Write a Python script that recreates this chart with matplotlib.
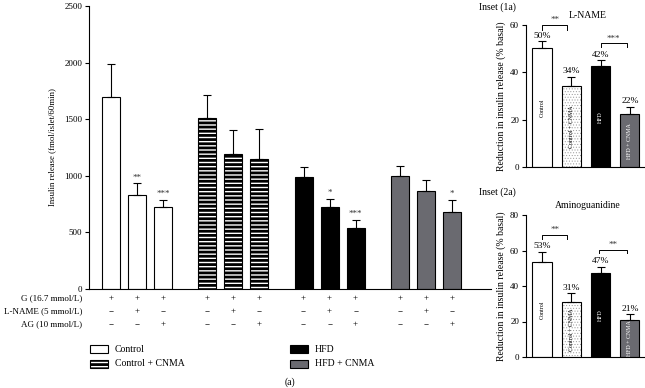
import matplotlib
matplotlib.use("Agg")
import matplotlib.pyplot as plt
from matplotlib.patches import Rectangle
from matplotlib.transforms import blended_transform_factory
import numpy as np

plt.rcParams['font.family'] = ['Liberation Serif', 'DejaVu Serif']
plt.rcParams['hatch.linewidth'] = 2.0

# ---------------- data ----------------
groups = ["Control", "Control + CNMA", "HFD", "HFD + CNMA"]
main_means = [[1700, 830, 727], [1510, 1195, 1150], [990, 725, 540], [1000, 866, 680]]
main_errs = [[288, 104, 60], [205, 210, 262], [88, 70, 70], [87, 97, 106]]
main_stars = [["", "**", "***"], ["", "", ""], ["", "*", "***"], ["", "", "*"]]

row_labels = ["G (16.7 mmol/L)", "L-NAME (5 mmol/L)", "AG (10 mmol/L)"]
row_signs = [["+", "+", "+"], ["\u2212", "+", "\u2212"], ["\u2212", "\u2212", "+"]]

inset_groups = ["Control", "Control + CNMA", "HFD", "HFD + CNMA"]
lname_vals = [50.1, 34.2, 42.5, 22.2]
lname_errs = [3.1, 3.9, 2.6, 3.2]
lname_pct = ["50%", "34%", "42%", "22%"]
ag_vals = [53.3, 30.8, 47.5, 20.8]
ag_errs = [6.0, 5.1, 3.4, 3.4]
ag_pct = ["53%", "31%", "47%", "21%"]

W, H = 645, 388
fig = plt.figure(figsize=(W / 100, H / 100), dpi=100)

def fx(px):
    return px / W

def fy(py):
    return 1 - py / H

WHITE = "white"
BLACK = "black"
GRAY = "#6a6a70"
face = [WHITE, WHITE, BLACK, GRAY]
hatches = [None, "----", None, None]

# ---------------- main axes ----------------
ax = fig.add_axes([fx(89), fy(289), fx(491) - fx(89), fy(6) - fy(289)])
group_gap = 3.7
width = 0.69
xpos_all = []
for g in range(4):
    xs = np.arange(3) + g * group_gap
    xpos_all.extend(xs)
    ax.bar(xs, main_means[g], width=width, color=face[g], edgecolor="black",
           linewidth=0.8, hatch=hatches[g], zorder=2,
           yerr=[np.zeros(3), main_errs[g]],
           error_kw=dict(ecolor="black", elinewidth=0.8, capsize=3, capthick=0.8))
    for i in range(3):
        if main_stars[g][i]:
            ax.text(xs[i], main_means[g][i] + main_errs[g][i] + 15, main_stars[g][i],
                    ha="center", va="bottom", fontsize=6.5, color="#333333")

ax.set_xlim(-0.846, 14.6)
ax.set_ylim(0, 2500)
ax.set_yticks([0, 500, 1000, 1500, 2000, 2500])
ax.tick_params(axis="y", labelsize=6.5, length=3, width=0.8, pad=2)
ax.set_xticks(xpos_all)
ax.set_xticklabels([])
ax.tick_params(axis="x", direction="in", length=2, width=0.6)
for s in ["top", "right"]:
    ax.spines[s].set_visible(False)
for s in ["left", "bottom"]:
    ax.spines[s].set_linewidth(0.8)
ax.set_ylabel("Insulin release (fmol/islet/60min)", fontsize=6.3, labelpad=6)

# table of treatments
trans = blended_transform_factory(ax.transData, fig.transFigure)
row_y = [298, 311, 324]
for r in range(3):
    fig.text(fx(82), fy(row_y[r]), row_labels[r], ha="right", va="center", fontsize=6.5)
    for g in range(4):
        for i in range(3):
            ax.text(i + g * group_gap, fy(row_y[r]), row_signs[r][i], transform=trans,
                    ha="center", va="center", fontsize=6.5, clip_on=False)

# legend
leg_items = [(90, 349, 0), (90, 364, 1), (290, 349, 2), (290, 364, 3)]
for x0, yc, g in leg_items:
    rect = Rectangle((fx(x0), fy(yc + 4)), fx(18), 8 / H, transform=fig.transFigure,
                     facecolor=face[g], edgecolor="black", linewidth=0.8, hatch=hatches[g])
    fig.add_artist(rect)
    fig.text(fx(x0 + 25), fy(yc), groups[g], ha="left", va="center", fontsize=7)
fig.text(fx(290), fy(382), "(a)", ha="center", va="center", fontsize=7)

# ---------------- insets ----------------
def draw_inset(bottom_px, top_px, ymax, yticks, vals, errs, pct, title, tag, tag_y, title_y):
    axi = fig.add_axes([fx(526), fy(bottom_px), 1 - fx(526), fy(top_px) - fy(bottom_px)])
    xs = np.arange(4)
    bw = 0.65
    for i in range(4):
        if i == 1:
            b = axi.bar(xs[i], vals[i], width=bw, color="white", edgecolor="#9a9a9a",
                        linewidth=0, hatch="......", zorder=2)
            for p in b:
                if hasattr(p, "set_hatch_linewidth"):
                    p.set_hatch_linewidth(0.4)
            axi.bar(xs[i], vals[i], width=bw, color="none", edgecolor="black",
                    linewidth=0.8, zorder=3)
        else:
            axi.bar(xs[i], vals[i], width=bw, color=face[i], edgecolor="black",
                    linewidth=0.8, zorder=2)
        axi.errorbar(xs[i], vals[i], yerr=[[0], [errs[i]]], ecolor="black",
                     elinewidth=0.8, capsize=3, capthick=0.8, fmt="none", zorder=4)
        axi.text(xs[i], vals[i] + errs[i] + ymax * 0.01, pct[i], ha="center", va="bottom",
                 fontsize=6.8)
        axi.text(xs[i], vals[i] / 2, inset_groups[i], rotation=90, ha="center", va="center",
                 fontsize=4.3, color="white" if i >= 2 else "black", zorder=5)
    axi.set_xlim(-0.546, 3.515)
    axi.set_ylim(0, ymax)
    axi.set_yticks(yticks)
    axi.set_xticks([0])
    axi.set_xticklabels([])
    axi.tick_params(axis="x", direction="in", length=2, width=0.6)
    axi.tick_params(axis="y", labelsize=6.5, length=3, width=0.8, pad=2)
    for s in ["top", "right"]:
        axi.spines[s].set_visible(False)
    for s in ["left", "bottom"]:
        axi.spines[s].set_linewidth(0.8)
    axi.set_ylabel("Reduction in insulin release (% basal)", fontsize=7, labelpad=3)
    fig.text(fx(588), fy(title_y), title, ha="center", va="center", fontsize=7)
    fig.text(fx(479), fy(tag_y), tag, ha="left", va="center", fontsize=7)
    return axi

ax1 = draw_inset(167, 25, 60, [0, 20, 40, 60], lname_vals, lname_errs, lname_pct,
                 "L-NAME", "Inset (1a)", 7, 15)
ax2 = draw_inset(357, 215, 80, [0, 20, 40, 60, 80], ag_vals, ag_errs, ag_pct,
                 "Aminoguanidine", "Inset (2a)", 192, 205)

# significance brackets on insets
br1 = [(0, 0.87, 57.8, 60.0, "**"), (2, 2.9, 50.6, 52.3, "***")]
br2 = [(0, 0.87, 66.5, 69.0, "**"), (1.95, 2.9, 58.6, 60.3, "**")]
for axi, brs in [(ax1, br1), (ax2, br2)]:
    ymax = axi.get_ylim()[1]
    for a, b, yb, yt, lab in brs:
        axi.plot([a, a, b, b], [yb, yt, yt, yb], color="black", lw=0.7, clip_on=False)
        axi.text((a + b) / 2, yt + ymax * 0.005, lab, ha="center", va="bottom",
                 fontsize=6.5, color="#333333")

fig.savefig("out.png", dpi=100)
